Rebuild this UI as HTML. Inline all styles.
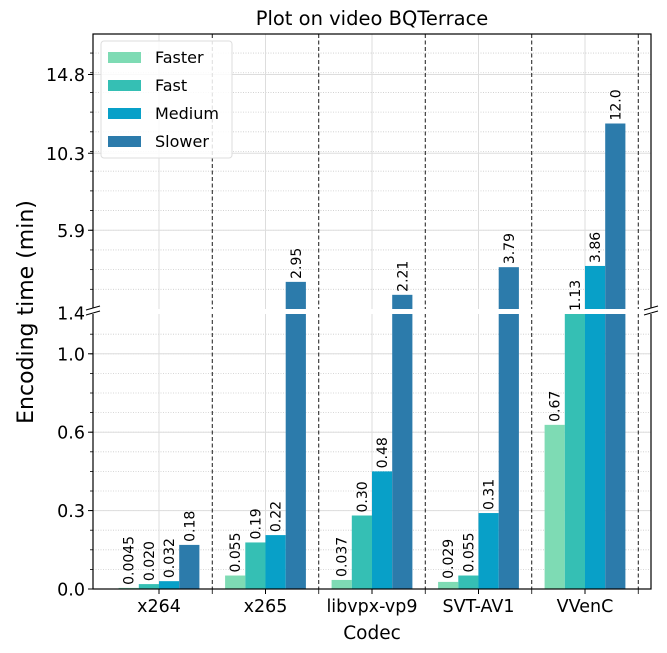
<!DOCTYPE html>
<html><head><meta charset="utf-8"><style>
body{margin:0;background:#fff}
svg{display:block;font-family:"DejaVu Sans","Liberation Sans",sans-serif}
</style></head><body>
<svg id="chart" width="667" height="653" viewBox="0 0 667 653" xmlns="http://www.w3.org/2000/svg">
<g id="grid"></g><g id="bars"></g><g id="labels"></g><g id="axes"></g>
</svg>
<script>
const categories = ["x264","x265","libvpx-vp9","SVT-AV1","VVenC"];
const series = ["Faster","Fast","Medium","Slower"];
const faster = [0.0045,0.055,0.037,0.029,0.67];
const fast = [0.020,0.19,0.30,0.055,1.13];
const medium = [0.032,0.22,0.48,0.31,3.86];
const slower = [0.18,2.95,2.21,3.79,12.0];
const valueLabels = [["0.0045","0.020","0.032","0.18"],["0.055","0.19","0.22","2.95"],["0.037","0.30","0.48","2.21"],["0.029","0.055","0.31","3.79"],["0.67","1.13","3.86","12.0"]];
const lowerTicks = [0, 0.32, 0.64, 0.96];
const lowerTickLabels = ["0.0","0.3","0.6","1.0"];
const upperTicks = [1.4, 5.9, 10.3, 14.8];
const upperTickLabels = ["1.4","5.9","10.3","14.8"];

const colors = ["#7edbb4","#35bfb4","#08a0c8","#2c7bab"];
const NS = "http://www.w3.org/2000/svg";
const L=93,R=651,T=34,B=589, BRK_LO=314, BRK_HI=309;
const lowerMax = (B-BRK_LO)/245;
function yLow(v){return B - Math.min(v,lowerMax)*245;}
function yUp(v){return BRK_HI - (v-1.4)*17.5;}
const groupW=106.5;
function xc(i){return 159+groupW*i;}
function mk(tag,attrs,parent){const e=document.createElementNS(NS,tag);for(const k in attrs)e.setAttribute(k,attrs[k]);parent.appendChild(e);return e;}
const grid=document.getElementById('grid'),bars=document.getElementById('bars'),labels=document.getElementById('labels'),axes=document.getElementById('axes');
const stepL=(lowerTicks[1]-lowerTicks[0])/4;
for(let v=stepL;yLow(v)>BRK_LO+1;v+=stepL){const y=yLow(v);const g=mk('line',{x1:L,x2:R,y1:y,y2:y,stroke:'#ccc','stroke-width':0.8,'stroke-dasharray':'1,1.5'},grid);}
const stepU=(upperTicks[1]-upperTicks[0])/4;
for(let v=1.4+stepU;yUp(v)>T;v+=stepU){const y=yUp(v);const g=mk('line',{x1:L,x2:R,y1:y,y2:y,stroke:'#ccc','stroke-width':0.8,'stroke-dasharray':'1,1.5'},grid);}
lowerTicks.forEach((v,i)=>{const y=yLow(v);if(i>0){const g=mk('line',{x1:L,x2:R,y1:y,y2:y,stroke:'#ddd','stroke-width':1},grid);}
 mk('line',{x1:L-5,x2:L,y1:y,y2:y,stroke:'#000'},axes);
 const t=mk('text',{x:L-8,y:y+6.5,'text-anchor':'end','font-size':17.5},axes);t.textContent=lowerTickLabels[i];});
upperTicks.forEach((v,i)=>{const y=yUp(v)+(i==0?4:0);if(i>0){const g=mk('line',{x1:L,x2:R,y1:y,y2:y,stroke:'#ddd','stroke-width':1},grid);mk('line',{x1:L-5,x2:L,y1:y,y2:y,stroke:'#000'},axes);}
 const t=mk('text',{x:L-8,y:y+6.5,'text-anchor':'end','font-size':17.5},axes);t.textContent=upperTickLabels[i];});
for(let v=stepL;yLow(v)>BRK_LO+1;v+=stepL){mk('line',{x1:L-3,x2:L,y1:yLow(v),y2:yLow(v),stroke:'#000','stroke-width':0.8},axes);}
for(let v=1.4+stepU;yUp(v)>T;v+=stepU){mk('line',{x1:L-3,x2:L,y1:yUp(v),y2:yUp(v),stroke:'#000','stroke-width':0.8},axes);}
categories.forEach((c,i)=>{const x=xc(i);const g=mk('line',{x1:x,x2:x,y1:T,y2:B,stroke:'#ddd'},grid);
 const dx=x+groupW/2;
 const d=mk('line',{x1:dx,x2:dx,y1:T,y2:B,stroke:'#000','stroke-width':0.9,'stroke-dasharray':'4,2.5'},grid);
 mk('line',{x1:x,x2:x,y1:B,y2:B+5,stroke:'#000'},axes);
 mk('line',{x1:dx,x2:dx,y1:B,y2:B+5,stroke:'#000','stroke-width':0.8},axes);
 const t=mk('text',{x:x,y:612,'text-anchor':'middle','font-size':17.5},axes);t.textContent=c;});
const all=[faster,fast,medium,slower];const bw=20.2;
categories.forEach((c,i)=>{all.forEach((arr,s)=>{const v=arr[i];const x=xc(i)+(s-2)*bw;
 const yl=yLow(v);const r=mk('rect',{x:x,y:yl,width:bw,height:B-yl,fill:colors[s]},bars);
 let ytop=yl;
 if(v>1.4){const yu=yUp(v);const r2=mk('rect',{x:x,y:yu,width:bw,height:BRK_HI-yu,fill:colors[s]},bars);ytop=yu;}
 const lx=x+bw/2+5, ly=ytop-3;
 const t=mk('text',{x:lx,y:ly,'font-size':14,transform:`rotate(-90 ${lx} ${ly})`},labels);t.textContent=valueLabels[i][s];});});
mk('rect',{x:L+1,y:BRK_HI,width:R-L-2,height:BRK_LO-BRK_HI,fill:'#fff'},bars);
mk('rect',{x:L,y:T,width:R-L,height:B-T,fill:'none',stroke:'#000','stroke-width':1.2},axes);
[[L,311],[R,311]].forEach(([x,y])=>{mk('rect',{x:x-6,y:y-3,width:12,height:6,fill:'#fff'},axes);mk('line',{x1:x-7,x2:x+7,y1:y-1,y2:y-5,stroke:'#000'},axes);mk('line',{x1:x-7,x2:x+7,y1:y+4,y2:y,stroke:'#000'},axes);});
</script>
<svg style="position:absolute;left:0;top:0;font-family:'DejaVu Sans','Liberation Sans',sans-serif" width="667" height="653">
<text x="372" y="25" text-anchor="middle" font-size="19.5">Plot on video BQTerrace</text>
<text x="372" y="639" text-anchor="middle" font-size="18.5">Codec</text>
<text transform="rotate(-90 33 312)" x="33" y="312" text-anchor="middle" font-size="22">Encoding time (min)</text>
<g>
<rect x="101" y="41" width="131" height="117" rx="3" fill="#fff" fill-opacity="0.85" stroke="#ddd"/>
<rect x="108" y="52" width="33" height="11" fill="#7edbb4"/>
<text x="155" y="63" font-size="16">Faster</text>
<rect x="108" y="80" width="33" height="11" fill="#35bfb4"/>
<text x="155" y="91" font-size="16">Fast</text>
<rect x="108" y="108" width="33" height="11" fill="#08a0c8"/>
<text x="155" y="119" font-size="16">Medium</text>
<rect x="108" y="136" width="33" height="11" fill="#2c7bab"/>
<text x="155" y="147" font-size="16">Slower</text>
</g>
</svg>
</body></html>
